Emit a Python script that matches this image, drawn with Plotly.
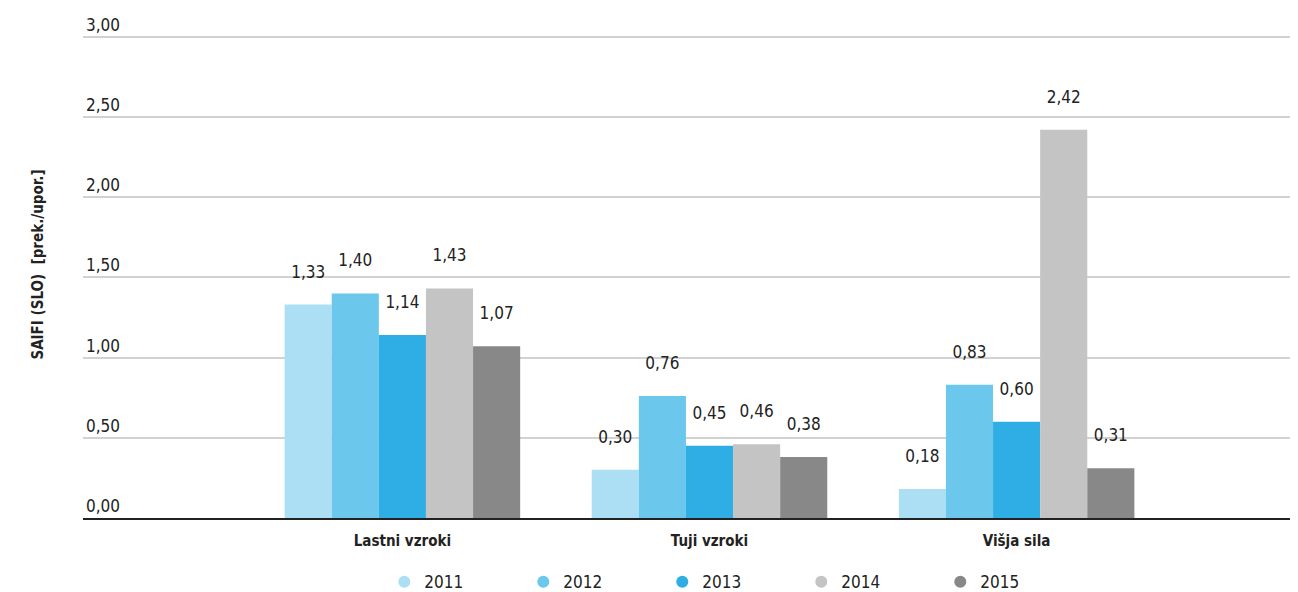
import plotly.graph_objects as go

categories = ["Lastni vzroki", "Tuji vzroki", "Višja sila"]
years = ["2011", "2012", "2013", "2014", "2015"]
values = {
    "2011": [1.33, 0.30, 0.18],
    "2012": [1.40, 0.76, 0.83],
    "2013": [1.14, 0.45, 0.60],
    "2014": [1.43, 0.46, 2.42],
    "2015": [1.07, 0.38, 0.31],
}
colors = ["#addff4", "#6bc8ec", "#2eaee5", "#c4c4c4", "#888888"]

FONT = "DejaVu Sans Condensed, Liberation Sans Narrow, sans-serif"


def fnt(size, weight="normal"):
    return dict(family=FONT, size=size, color="#222", weight=weight)


fig = go.Figure()

for year, color in zip(years, colors):
    fig.add_trace(go.Bar(
        x=categories,
        y=values[year],
        name=year,
        marker_color=color,
        marker_line_width=0,
        texttemplate="%{y:.2f}<br><span style='font-size:8px'> </span>",
        textposition="outside",
        textfont=fnt(17),
        cliponaxis=False,
        showlegend=False,
    ))

# circle markers for the legend
for year, color in zip(years, colors):
    fig.add_trace(go.Scatter(
        x=[None], y=[None],
        mode="markers",
        name=year,
        marker=dict(symbol="circle", size=17, color=color),
    ))

# the page body has an 8px margin, margins below account for it
fig.update_layout(
    width=1298,
    height=592,
    margin=dict(l=75, r=13, t=3, b=82, autoexpand=False),
    plot_bgcolor="white",
    paper_bgcolor="white",
    separators=",.",
    font=fnt(17),
    barmode="group",
    bargap=0.233,
    bargroupgap=0,
    xaxis=dict(
        range=[-1.04, 2.9],
        showgrid=False,
        showline=True,
        linecolor="#222",
        linewidth=2,
        ticks="",
        ticklabelstandoff=8,
        tickfont=fnt(15, "bold"),
    ),
    yaxis=dict(
        range=[0, 3.16],
        tickvals=[0, 0.5, 1, 1.5, 2, 2.5, 3],
        tickformat=".2f",
        showgrid=True,
        gridcolor="#d2d2d2",
        gridwidth=1.5,
        zeroline=False,
        ticklabelposition="inside top",
        tickfont=fnt(17),
        title=dict(
            text="SAIFI (SLO)  [prek./upor.]",
            font=fnt(15, "bold"),
            standoff=38,
        ),
    ),
    legend=dict(
        orientation="h",
        x=0.249,
        xanchor="left",
        y=-0.1265,
        yanchor="middle",
        entrywidth=94,
        font=fnt(17),
        itemsizing="constant",
    ),
)

fig.write_html("out.html")
